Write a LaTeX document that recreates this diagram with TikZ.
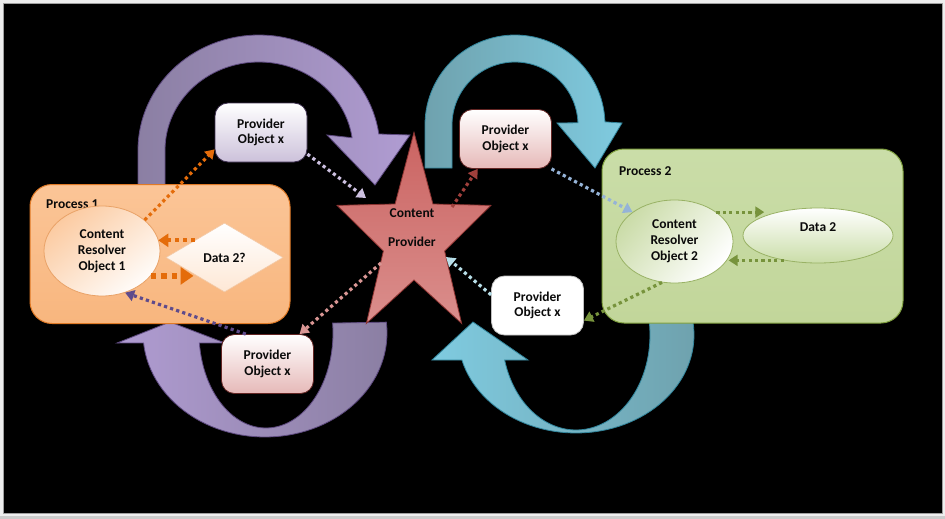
\documentclass[tikz,border=0pt]{standalone}
\usepackage{fontspec}
\setmainfont{Carlito}
\usetikzlibrary{shapes.geometric,arrows.meta}
\definecolor{pagegray}{HTML}{EEEEEE}
\definecolor{framegray}{HTML}{A0A0A0}
\definecolor{tcol}{HTML}{0A0A0A}
\definecolor{oraA}{HTML}{FBC597}
\definecolor{oraB}{HTML}{F59A50}
\definecolor{oraC}{HTML}{F8B67E}
\definecolor{oraD}{HTML}{E07A26}
\definecolor{grnA}{HTML}{CADDA8}
\definecolor{grnB}{HTML}{A0BF62}
\definecolor{grnC}{HTML}{C2D69A}
\definecolor{grnD}{HTML}{7F9F3F}
\definecolor{ora}{HTML}{E46C0A}
\definecolor{purD}{HTML}{5F4B8B}
\definecolor{lav}{HTML}{CCC0E0}
\definecolor{redD}{HTML}{A0403C}
\definecolor{pinkL}{HTML}{D99694}
\definecolor{blueL}{HTML}{95B3D7}
\definecolor{cyanL}{HTML}{B7DEE8}
\definecolor{grn}{HTML}{77933C}
\definecolor{starT}{HTML}{CB6462}
\definecolor{starM}{HTML}{C0504D}
\definecolor{starB}{HTML}{DA8E8C}
\definecolor{starD}{HTML}{8C3331}
\definecolor{purL}{HTML}{B09CD2}
\definecolor{purM}{HTML}{866AAE}
\definecolor{purG}{HTML}{8B7FA3}
\definecolor{purE}{HTML}{5E4A80}
\definecolor{tealL}{HTML}{7FCBE0}
\definecolor{tealM}{HTML}{4BACC6}
\definecolor{tealG}{HTML}{6FA2AE}
\definecolor{tealE}{HTML}{31859C}
\definecolor{lavB}{HTML}{CCC1DA}
\definecolor{lavE}{HTML}{3F3151}
\definecolor{pinkB}{HTML}{E6B9B8}
\definecolor{redE}{HTML}{632523}
\begin{document}
\begin{tikzpicture}[x=1pt,y=-1pt,
  txt/.style={font=\fontsize{13.5}{15.8}\selectfont\bfseries, text=tcol, align=center, inner sep=0pt},
  provbox/.style={txt, rectangle, rounded corners=13pt, minimum width=92pt, minimum height=59pt, line width=0.8pt},
  procbox/.style={rectangle, rounded corners=22pt, line width=1pt},
  ell/.style={txt, ellipse, line width=0.8pt},
  darr/.style={line width=3.2pt, dash pattern=on 3.2pt off 3.2pt, -{Triangle[length=9pt,width=11pt]}},
  darrB/.style={line width=5.5pt, dash pattern=on 5.5pt off 5pt, -{Triangle[length=13pt,width=17pt]}},
  band/.style={line width=0.8pt}
]
\useasboundingbox (0,0) rectangle (945,519);
\fill[pagegray] (0,0) rectangle (945,519);
\fill[black!20] (0,516) rectangle (945,519);
\filldraw[fill=black, draw=framegray, line width=0.8pt] (3,3) rectangle (942,513);

% top-left purple arc
\shade[left color=purG, middle color=purM, right color=purL, draw=purE, band]
  (138,185) -- (138,150)
  -- plot[domain=180:8,samples=60] ({259+121*cos(\x)},{150-115*sin(\x)})
  -- (410,135) -- (375,185) -- (327,135)
  -- plot[domain=8:180,samples=60] ({259+94*cos(\x)},{150-88*sin(\x)})
  -- (165,185) -- cycle;
% top-right teal arc
\shade[left color=tealG, middle color=tealM, right color=tealL, draw=tealE, band]
  (425,168) -- (425,125)
  -- plot[domain=180:2,samples=60] ({515+90*cos(\x)},{125-90*sin(\x)})
  -- (622,123) -- (595,168) -- (557,123)
  -- plot[domain=2:180,samples=60] ({515+63*cos(\x)},{125-63*sin(\x)})
  -- (452,168) -- cycle;
% bottom-left purple crescent
\shade[left color=purL, middle color=purM, right color=purG, draw=purE, band]
  plot[domain=6:-174.5,samples=60] ({265+122*cos(\x)},{333-104*sin(\x)})
  -- (117,343) -- (170,322) -- (225,343)
  -- plot[domain=-174:6,samples=60] ({266+67*cos(\x)},{333-95*sin(\x)})
  -- cycle;
% bottom-right teal crescent
\shade[left color=tealL, middle color=tealM, right color=tealG, draw=tealE, band]
  plot[domain=7.6:-165.2,samples=60] ({576+118*cos(\x)},{335-98*sin(\x)})
  -- (432,360) -- (473,322) -- (528,360)
  -- plot[domain=-164.7:7.9,samples=60] ({576+74*cos(\x)},{335-95*sin(\x)})
  -- cycle;

% processes
\node[procbox, minimum width=260pt, minimum height=139pt, top color=oraA, middle color=oraB, bottom color=oraC, draw=oraD] (p1) at (160,254) {};
\node[txt, anchor=west] (p1lbl) at (46,204) {Process 1};
\node[procbox, minimum width=301pt, minimum height=174pt, top color=grnA, middle color=grnB, bottom color=grnC, draw=grnD] (p2) at (752.5,236) {};
\node[txt, anchor=west] (p2lbl) at (619,171) {Process 2};

% inside process 1
\node[ell, minimum width=116pt, minimum height=90pt, top color=oraA!90!white, bottom color=white!95!oraA, shading angle=40, draw=oraD!70] (cr1) at (102,251) {Content\\Resolver\\Object 1};
\node[txt, diamond, minimum width=117pt, minimum height=69pt, top color=white, bottom color=oraA!40, draw=oraD!40, line width=0.6pt] (d2) at (224.5,257.5) {Data 2?};

% inside process 2
\node[ell, minimum width=117pt, minimum height=83pt, top color=grnB!55, bottom color=white, shading angle=50, draw=grnD!80] (cr2) at (674.5,241.5) {Content\\Resolver\\Object 2};
\node[ell, minimum width=150pt, minimum height=55pt, top color=white, bottom color=grnA, draw=grnD!80] (d2b) at (818,235.5) {};
\node[txt] (d2blbl) at (818,227) {Data 2};

% star
\shade[top color=starT, middle color=starM, bottom color=starB, draw=starD, line width=0.8pt]
  (414,132.4) -- (432.9,204.0) -- (490.9,205.4) -- (444.6,251.0) -- (461.6,323.4)
  -- (414,280) -- (366.4,323.4) -- (383.4,251.0) -- (337.1,205.4) -- (395.1,204.0) -- cycle;
\node[txt] (cp) at (412,227.5) {Content\\[13pt]Provider};
\coordinate (sTL) at (366,198);
\coordinate (sTR) at (452,207);
\coordinate (sBR) at (446,257);
\coordinate (sBL) at (381,263);

% provider objects
\node[provbox, top color=white, bottom color=lavB, draw=lavE] (pxA) at (261,132.5) {Provider\\Object x};
\node[provbox, top color=white, bottom color=pinkB, draw=redE] (pxC) at (505.5,139) {Provider\\Object x};
\node[provbox, top color=white, bottom color=pinkB, draw=redE] (pxB) at (267.5,364) {Provider\\Object x};
\node[provbox, fill=white, draw=black!25] (pxD) at (537.5,305.5) {Provider\\Object x};

% connectors
\draw[darr, ora] (cr1.36) -- (pxA.200);
\draw[darr, ora, line width=4pt, dash pattern=on 4pt off 4pt, -{Triangle[length=10pt,width=13pt]}] (d2.150) -- (cr1.12 |- d2.150);
\draw[darrB, ora] (cr1.-27) -- (d2.208 |- cr1.-27);
\draw[darr, purD] (pxB.126) -- (cr1.-61);
\draw[darr, lav] (pxA.-25) -- (sTL);
\draw[darr, redD] (sTR) -- (pxC.-133);
\draw[darr, cyanL] (pxD.167) -- (sBR);
\draw[darr, pinkL] (sBL) -- (pxB.43);
\draw[darr, blueL] (pxC.-33) -- (cr2.145);
\draw[darr, grn] (cr2.35) -- (d2b.160 |- cr2.35);
\draw[darr, grn] (d2b.-144) -- (cr2.-17 |- d2b.-144);
\draw[darr, grn] (cr2.-107) -- (pxD.-18);
\end{tikzpicture}
\end{document}
